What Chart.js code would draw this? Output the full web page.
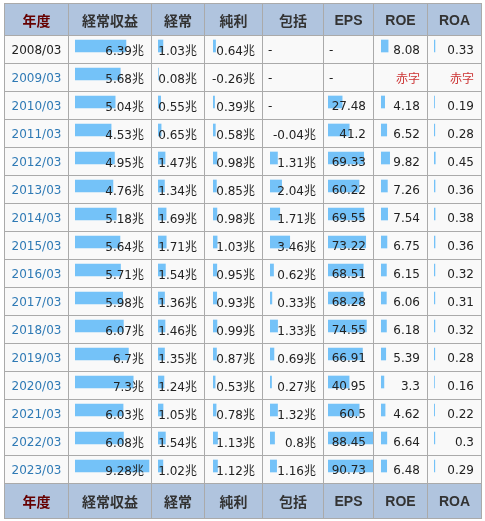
<!DOCTYPE html>
<html lang="ja">
  <head>
    <meta charset="UTF-8" />
    <meta name="viewport" content="width=device-width, initial-scale=1.0" />
    <title>業績推移</title>
    <style>
      body {
        margin: 0;
        background: #fff;
      }

      .wrap {
        position: absolute;
        left: 4px;
        top: 3px;
        background: #f9f9f9;
      }

      .wrap canvas {
        position: absolute;
        z-index: 1;
      }

      table {
        position: relative;
        z-index: 2;
        border-collapse: collapse;
        table-layout: fixed;
        width: 477px;
        font-family: "DejaVu Sans", "Noto Sans CJK JP", sans-serif;
        font-size: 12px;
        color: #222;
      }

      th,
      td {
        border: 1px solid #aaa;
        white-space: nowrap;
        overflow: hidden;
      }

      th {
        background: #b0c4de;
        color: #333;
        font-family: "Liberation Sans", "Noto Sans CJK JP", sans-serif;
        font-size: 14px;
        font-weight: bold;
        text-align: center;
        padding: 0;
      }

      th.year {
        color: #600;
      }

      thead tr {
        height: 32px;
      }

      tbody tr {
        height: 28px;
      }

      tfoot tr {
        height: 35px;
      }

      td {
        text-align: right;
        padding: 0 7px 0 5px;
      }

      td.year {
        text-align: center;
        padding: 0;
      }

      td.none {
        text-align: left;
      }

      td.red {
        color: #c33;
      }

      a {
        color: #2f7ab5;
        text-decoration: none;
      }
    </style>
  </head>
  <body>
    <div class="wrap" id="wrap">
      <table id="tbl">
        <colgroup>
          <col style="width: 64px" />
          <col style="width: 83px" />
          <col style="width: 53px" />
          <col style="width: 58px" />
          <col style="width: 61px" />
          <col style="width: 50px" />
          <col style="width: 54px" />
          <col style="width: 54px" />
        </colgroup>
        <thead><tr id="head"></tr></thead>
        <tbody id="body"></tbody>
        <tfoot><tr id="foot"></tr></tfoot>
      </table>
    </div>
    <script src="https://cdn.jsdelivr.net/npm/chart.js"></script>

    <script>
      const headers = ["年度", "経常収益", "経常", "純利", "包括", "EPS", "ROE", "ROA"];
      const years = [
        "2008/03", "2009/03", "2010/03", "2011/03", "2012/03", "2013/03", "2014/03", "2015/03",
        "2016/03", "2017/03", "2018/03", "2019/03", "2020/03", "2021/03", "2022/03", "2023/03",
      ];
      // 兆円
      const revenue = [6.39, 5.68, 5.04, 4.53, 4.95, 4.76, 5.18, 5.64, 5.71, 5.98, 6.07, 6.7, 7.3, 6.03, 6.08, 9.28];
      const ordinary = [1.03, 0.08, 0.55, 0.65, 1.47, 1.34, 1.69, 1.71, 1.54, 1.36, 1.46, 1.35, 1.24, 1.05, 1.54, 1.02];
      const netIncome = [0.64, -0.26, 0.39, 0.58, 0.98, 0.85, 0.98, 1.03, 0.95, 0.93, 0.99, 0.87, 0.53, 0.78, 1.13, 1.12];
      const comprehensive = [null, null, null, -0.04, 1.31, 2.04, 1.71, 3.46, 0.62, 0.33, 1.33, 0.69, 0.27, 1.32, 0.8, 1.16];
      // 円, %
      const eps = [null, null, 27.48, 41.2, 69.33, 60.22, 69.55, 73.22, 68.51, 68.28, 74.55, 66.91, 40.95, 60.5, 88.45, 90.73];
      const roe = [8.08, null, 4.18, 6.52, 9.82, 7.26, 7.54, 6.75, 6.15, 6.06, 6.18, 5.39, 3.3, 4.62, 6.64, 6.48];
      const roa = [0.33, null, 0.19, 0.28, 0.45, 0.36, 0.38, 0.36, 0.32, 0.31, 0.32, 0.28, 0.16, 0.22, 0.3, 0.29];
      const deficitYears = ["2009/03"];

      const barColor = "#74c2f8";
      const columns = [
        { data: revenue, unit: "兆", pxPerUnit: 7.97, offset: 6 },
        { data: ordinary, unit: "兆", pxPerUnit: 4.8, offset: 6 },
        { data: netIncome, unit: "兆", pxPerUnit: 4.0, offset: 8 },
        { data: comprehensive, unit: "兆", pxPerUnit: 5.7, offset: 7 },
        { data: eps, unit: "", pxPerUnit: 0.515, offset: 4 },
        { data: roe, unit: "", pxPerUnit: 0.88, offset: 7, deficit: true },
        { data: roa, unit: "", pxPerUnit: 2.8, offset: 6, deficit: true },
      ];

      // header + footer
      ["head", "foot"].forEach((id) => {
        const tr = document.getElementById(id);
        headers.forEach((h, i) => {
          const th = document.createElement("th");
          th.textContent = h;
          if (i === 0) th.className = "year";
          tr.appendChild(th);
        });
      });

      // rows
      const tbody = document.getElementById("body");
      years.forEach((y, r) => {
        const tr = document.createElement("tr");
        const td0 = document.createElement("td");
        td0.className = "year";
        if (r === 0) {
          td0.textContent = y;
        } else {
          const a = document.createElement("a");
          a.href = "#";
          a.textContent = y;
          td0.appendChild(a);
        }
        tr.appendChild(td0);
        columns.forEach((col) => {
          const td = document.createElement("td");
          const v = col.data[r];
          if (v === null) {
            if (col.deficit && deficitYears.includes(y)) {
              td.textContent = "赤字";
              td.className = "red";
            } else {
              td.textContent = "-";
              td.className = "none";
            }
          } else {
            td.textContent = v + col.unit;
          }
          tr.appendChild(td);
        });
        tbody.appendChild(tr);
      });

      // one horizontal bar chart per column, behind the text
      const wrap = document.getElementById("wrap");
      const wrapBox = wrap.getBoundingClientRect();
      const rows = tbody.querySelectorAll("tr");
      const firstRow = rows[0].getBoundingClientRect();
      const lastRow = rows[rows.length - 1].getBoundingClientRect();

      columns.forEach((col, c) => {
        const cell = rows[0].children[c + 1].getBoundingClientRect();
        const left = Math.round(cell.left - wrapBox.left) + col.offset;
        const width = Math.round(cell.right - wrapBox.left) - left;
        const top = Math.round(firstRow.top - wrapBox.top) - 4;
        const height = Math.round(lastRow.bottom - firstRow.top);

        const canvas = document.createElement("canvas");
        canvas.style.left = left + "px";
        canvas.style.top = top + "px";
        canvas.style.width = width + "px";
        canvas.style.height = height + "px";
        canvas.width = width;
        canvas.height = height;
        wrap.appendChild(canvas);

        new Chart(canvas, {
          type: "bar",
          data: {
            labels: years,
            datasets: [
              {
                data: col.data,
                // negative values get no bar
                backgroundColor: (ctx) => (ctx.raw < 0 ? "rgba(0,0,0,0)" : barColor),
                borderWidth: 0,
                barThickness: 12,
              },
            ],
          },
          options: {
            indexAxis: "y",
            responsive: false,
            animation: false,
            layout: { padding: 0 },
            plugins: {
              legend: { display: false },
              tooltip: { enabled: false },
            },
            scales: {
              x: { display: false, min: 0, max: width / col.pxPerUnit },
              y: { display: false },
            },
          },
        });
      });
    </script>
  </body>
</html>
